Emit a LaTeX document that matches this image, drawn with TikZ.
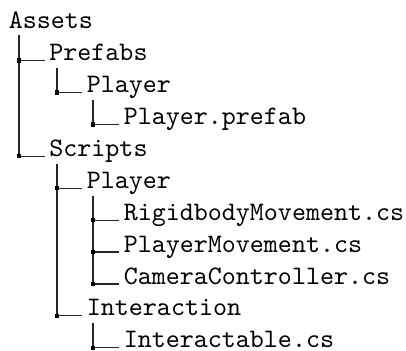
\documentclass[tikz,border=0pt]{standalone}
\usepackage{fontspec}
\newfontfamily\treefont{lmmono10-regular.otf}
\begin{document}
\begin{tikzpicture}[x=0.5pt,y=-0.5pt,
  entry/.style={anchor=base west,inner sep=0pt,font=\treefont\fontsize{13.35pt}{16pt}\selectfont},
  branch/.style={draw=black!85,line width=0.55pt,shorten >=2.2pt},
  junction/.style={fill=black,inner sep=0pt,minimum size=2.3pt,rectangle}]
\useasboundingbox (0,0) rectangle (406,350);
% entries
\node[entry] (assets) at (8.5,28.3) {Assets};
\node[entry] (prefabs) at (49,60.3) {Prefabs};
\node[entry] (plA) at (86.5,92.2) {Player};
\node[entry] (prefab) at (123.4,124.2) {Player.prefab};
\node[entry] (scripts) at (49,156.1) {Scripts};
\node[entry] (plB) at (86.5,188.1) {Player};
\node[entry] (rigid) at (123.4,220.1) {RigidbodyMovement.cs};
\node[entry] (pmove) at (123.4,252.0) {PlayerMovement.cs};
\node[entry] (cam) at (123.4,284.0) {CameraController.cs};
\node[entry] (inter) at (86.5,315.9) {Interaction};
\node[entry] (interc) at (123.4,347.9) {Interactable.cs};
% line tops under parents
\coordinate (tA) at (19,35);
\coordinate (tP) at (57,67.5);
\coordinate (tPl) at (93,99.5);
\coordinate (tS) at (57,163.5);
\coordinate (tPlB) at (93,195.5);
\coordinate (tI) at (93,323);
% branches
\draw[branch] (tA) |- (prefabs.base west);
\draw[branch] (tA) |- (scripts.base west);
\draw[branch] (tP) |- (plA.base west);
\draw[branch] (tPl) |- (prefab.base west);
\draw[branch] (tS) |- (plB.base west);
\draw[branch] (tS) |- (inter.base west);
\draw[branch] (tPlB) |- (rigid.base west);
\draw[branch] (tPlB) |- (pmove.base west);
\draw[branch] (tPlB) |- (cam.base west);
\draw[branch] (tI) |- (interc.base west);
% junction squares
\node[junction] at (tA |- prefabs.base) {};
\node[junction] at (tA |- scripts.base) {};
\node[junction] at (tP |- plA.base) {};
\node[junction] at (tPl |- prefab.base) {};
\node[junction] at (tS |- plB.base) {};
\node[junction] at (tS |- inter.base) {};
\node[junction] at (tPlB |- rigid.base) {};
\node[junction] at (tPlB |- pmove.base) {};
\node[junction] at (tPlB |- cam.base) {};
\node[junction] at (tI |- interc.base) {};
\end{tikzpicture}
\end{document}
